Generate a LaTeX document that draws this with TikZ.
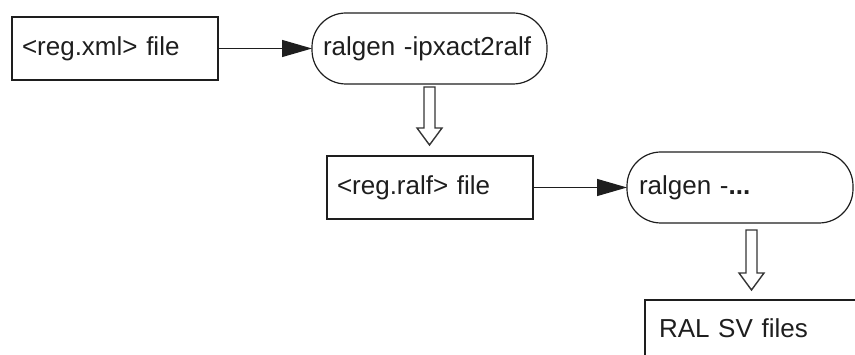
\documentclass[tikz,border=0pt]{standalone}
\usepackage{fontspec}
\setmainfont{Liberation Sans}
\usetikzlibrary{arrows.meta,calc}
\definecolor{ink}{HTML}{1E1E1E}

% hollow block arrow pointing down, from #1 (top of shaft) to #2 (tip)
\newcommand\hollowarrow[2]{%
  \draw[hollowline] let \p1=#1, \p2=#2 in
    (\x1-5.5pt,\y1) -- (\x1+5.5pt,\y1) -- (\x1+5.5pt,\y2+17pt)
    -- (\x1+12.5pt,\y2+17pt) -- (\x1,\y2) -- (\x1-12.5pt,\y2+17pt)
    -- (\x1-5.5pt,\y2+17pt) -- cycle;}

\begin{document}
\begin{tikzpicture}[x=1pt,y=-1pt,
  every node/.style={inner sep=0pt,outer sep=0pt,text=ink,
    font=\fontsize{26}{30}\selectfont},
  filebox/.style={draw=ink,line width=1.2pt,anchor=north west,
    minimum height=63pt,align=left,inner xsep=10pt},
  toolbox/.style={draw=ink,line width=1.2pt,anchor=north west,
    rounded corners=34pt,minimum height=71pt,align=left},
  flow/.style={draw=ink,line width=1.2pt,-{Triangle[length=30pt,width=17pt]}},
  hollowline/.style={draw=ink!90,line width=1.4pt,fill=white,line join=miter}]
\useasboundingbox (0,0) rectangle (855,355);
\clip (0,0) rectangle (855,355);

\node[filebox,text width=186pt] (xml) at (12,17) {<reg.xml> file};
\node[toolbox,text width=213pt,inner xsep=11pt] (gen1) at (312,13) {ralgen -ipxact2ralf};
\node[filebox,text width=186pt] (ralf) at (327,156) {<reg.ralf> file};
\node[toolbox,text width=202pt,inner xsep=12pt] (gen2) at (627,152) {\raisebox{3pt}{ralgen -\textbf{...}}};
\node[filebox,text width=185pt,minimum height=57pt,inner xsep=14pt] (sv) at (645,300) {RAL SV files};

\draw[flow] (xml.east) -- (gen1.west);
\draw[flow] (ralf.east) -- (gen2.west);

\hollowarrow{($(gen1.south)+(0,3)$)}{($(ralf.north -| gen1.south)+(0,-11)$)}
\hollowarrow{($(gen2.south -| sv.north)+(0,7)$)}{($(sv.north)+(0,-10)$)}
\end{tikzpicture}
\end{document}
